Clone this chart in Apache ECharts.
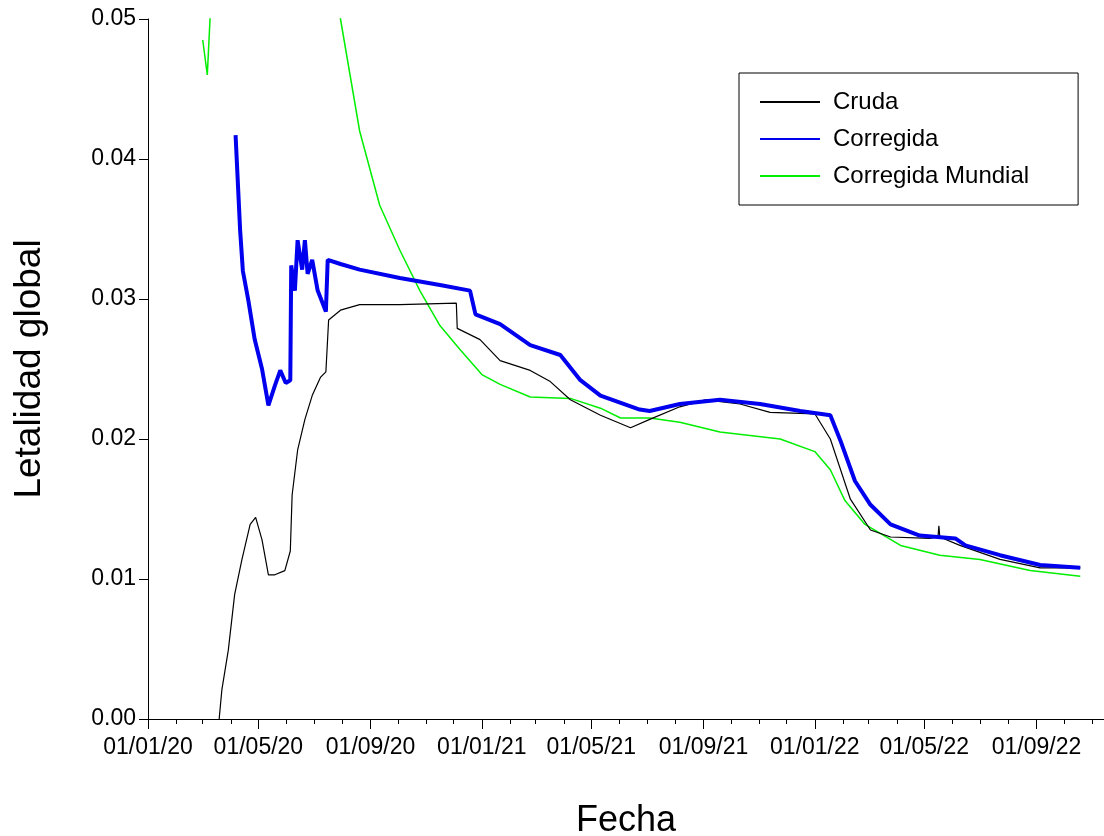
<!DOCTYPE html>
<html><head><meta charset="utf-8">
<script src="https://cdn.jsdelivr.net/npm/echarts@6/dist/echarts.min.js"></script>
<style>html,body{margin:0;background:#fff}#c{width:1104px;height:836px}</style>
</head><body><div id="c"></div>
<script>
// x values are days since 01/01/20
var tickDays = [0, 121, 244, 366, 486, 609, 731, 851, 974];
var tickLabels = ["01/01/20", "01/05/20", "01/09/20", "01/01/21", "01/05/21", "01/09/21", "01/01/22", "01/05/22", "01/09/22"];
var monthDays = [0,31,60,91,121,152,182,213,244,274,305,335,366,397,425,456,486,517,547,578,609,639,670,700,731,762,790,821,851,882,912,943,974,1004,1035];

var cruda = [[78,0],[81,0.0021],[88,0.0049],[95,0.0089],[103,0.0114],[112,0.0139],[118,0.0144],[125,0.0128],[132,0.0103],[139,0.0103],[150,0.0106],[156,0.012],[158,0.016],[164,0.0192],[172,0.0214],[180,0.0231],[189,0.0244],[195,0.0248],[198,0.0285],[211,0.0292],[232,0.0296],[276,0.0296],[338,0.0297],[339,0.0279],[364,0.0271],[386,0.0256],[419,0.0249],[441,0.0241],[463,0.0228],[496,0.0217],[529,0.0208],[550,0.0214],[583,0.0223],[611,0.0228],[649,0.0225],[682,0.0219],[731,0.0218],[748,0.02],[770,0.0157],[792,0.0135],[814,0.013],[857,0.0129],[866,0.013],[867,0.0138],[868,0.013],[890,0.0124],[934,0.0114],[978,0.0108],[1022,0.0108]];
var corregida = [[96,0.0417],[101,0.0349],[104,0.032],[110,0.0299],[117,0.0271],[125,0.025],[132,0.0224],[139,0.0238],[145,0.0249],[151,0.024],[156,0.0242],[157,0.0324],[161,0.0306],[164,0.0342],[169,0.0321],[172,0.0342],[175,0.0318],[180,0.0328],[186,0.0306],[195,0.0291],[197,0.0328],[211,0.0325],[232,0.0321],[276,0.0315],[320,0.031],[353,0.0306],[359,0.0289],[386,0.0282],[419,0.0267],[452,0.026],[474,0.0242],[496,0.0231],[539,0.0221],[550,0.022],[583,0.0225],[627,0.0228],[671,0.0225],[715,0.022],[748,0.0217],[759,0.0199],[775,0.017],[792,0.0153],[814,0.0139],[846,0.0131],[885,0.0129],[896,0.0124],[934,0.0117],[978,0.011],[1022,0.0108]];
var mundial = [[60,0.0485],[65,0.046],[68,0.05],[72,0.07],[120,0.12],[180,0.08],[211,0.05],[232,0.042],[254,0.0367],[276,0.0335],[298,0.0306],[320,0.0281],[342,0.0264],[366,0.0246],[386,0.0239],[419,0.023],[463,0.0229],[496,0.0222],[518,0.0215],[550,0.0215],[583,0.0212],[627,0.0205],[693,0.02],[731,0.0191],[748,0.0178],[764,0.0156],[786,0.0139],[825,0.0124],[868,0.0117],[912,0.0114],[967,0.0106],[1022,0.0102]];

var chart = echarts.init(document.getElementById("c"));
var font = "Liberation Sans, Arial, sans-serif";
chart.setOption({
  animation: false,
  grid: { left: 148, right: 0, top: 19, bottom: 117, containLabel: false, outerBoundsMode: "none" },
  legend: {
    orient: "vertical", left: 739, top: 73, width: 340,
    padding: [17, 49, 17, 20], itemGap: 13,
    borderColor: "#000", borderWidth: 1,
    itemWidth: 60, itemHeight: 26,
    itemStyle: { color: "transparent", borderWidth: 0 },
    textStyle: { fontFamily: font, fontSize: 24, color: "#000", padding: [0, 0, 0, 8] },
    data: ["Cruda", "Corregida", "Corregida Mundial"]
  },
  xAxis: [{
    type: "value", min: 0, max: 1048,
    name: "Fecha", nameLocation: "middle", nameGap: 84,
    nameTextStyle: { fontFamily: font, fontSize: 36, color: "#000" },
    axisLine: { onZero: false, lineStyle: { color: "#000" } },
    axisTick: { customValues: tickDays, length: 10, lineStyle: { color: "#000" } },
    axisLabel: { customValues: tickDays, formatter: function (v) { return tickLabels[tickDays.indexOf(v)]; },
      fontFamily: font, fontSize: 23, color: "#000", margin: 17 },
    splitLine: { show: false }
  }, {
    type: "value", min: 0, max: 1048, position: "bottom",
    axisLine: { show: false },
    axisTick: { customValues: monthDays, length: 5, lineStyle: { color: "#000" } },
    axisLabel: { show: false }, splitLine: { show: false }
  }],
  yAxis: {
    type: "value", min: 0, max: 0.05, interval: 0.01,
    name: "Letalidad global", nameLocation: "middle", nameGap: 100,
    nameTextStyle: { fontFamily: font, fontSize: 37, color: "#000" },
    axisLine: { show: true, lineStyle: { color: "#000" } },
    axisTick: { show: true, length: 9, lineStyle: { color: "#000" } },
    axisLabel: { formatter: function (v) { return v.toFixed(2); }, fontFamily: font, fontSize: 23, color: "#000", margin: 12 },
    splitLine: { show: false }
  },
  series: [
    { name: "Cruda", type: "line", data: cruda, showSymbol: false, symbol: "none",
      lineStyle: { color: "#000", width: 1.2 }, itemStyle: { color: "#000" }, z: 3 },
    { name: "Corregida", type: "line", data: corregida, showSymbol: false, symbol: "none",
      lineStyle: { color: "#0000ee", width: 4 }, itemStyle: { color: "#0000ee" }, z: 4 },
    { name: "Corregida Mundial", type: "line", data: mundial, showSymbol: false, symbol: "none", clip: true,
      lineStyle: { color: "#00ee00", width: 1.5 }, itemStyle: { color: "#00ee00" }, z: 2 }
  ]
});
</script></body></html>
